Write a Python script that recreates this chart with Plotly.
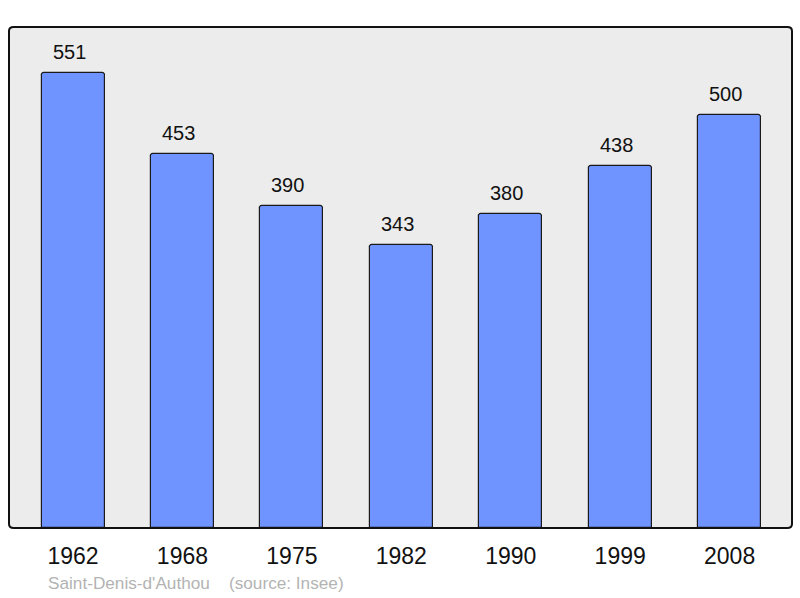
import plotly.graph_objects as go

# population by census year
years = ["1962", "1968", "1975", "1982", "1990", "1999", "2008"]
population = [551, 453, 390, 343, 380, 438, 500]

fig = go.Figure()
fig.add_trace(go.Bar(
    x=years, y=population,
    width=0.576,
    marker=dict(color="#7094ff", line=dict(color="#1a1a1a", width=1.2), cornerradius=3),
))

# value labels above each bar (category axis -> use the index position)
for i, val in enumerate(population):
    fig.add_annotation(x=i, y=val, xref="x", yref="y", text=str(val), showarrow=False,
                       yanchor="middle", yshift=21, xshift=-4,
                       font=dict(size=20, color="#111"))

# rounded frame round the plot area
fig.add_shape(type="path", xref="paper", yref="paper",
              path="M 0.006,0 L 0.994,0 Q 1,0 1,0.008 L 1,0.992 Q 1,1 0.994,1 "
                   "L 0.006,1 Q 0,1 0,0.992 L 0,0.008 Q 0,0 0.006,0 Z",
              line=dict(color="#111", width=2), layer="above")

fig.add_annotation(text="Saint-Denis-d'Authou    (source: Insee)", xref="paper", yref="paper",
                   x=0.047, y=-0.11, xanchor="left", yanchor="middle", showarrow=False,
                   font=dict(size=17.2, color="#b3b3b3"))

fig.update_layout(
    width=800, height=598,
    margin=dict(l=9, r=8, t=27, b=70),
    paper_bgcolor="white", plot_bgcolor="#ececec",
    font=dict(family="Liberation Sans, Arial", color="#111"),
    showlegend=False, bargap=0,
)
fig.update_xaxes(type="category", range=[-0.585, 6.57], showgrid=False,
                 tickfont=dict(size=23), ticks="", ticklabelstandoff=12)
fig.update_yaxes(range=[0, 606.7], showgrid=False, showticklabels=False, zeroline=False)

# page has a default body margin; drop it so the figure sits at 0,0
fig.write_html("out.html", config={"displayModeBar": False},
               post_script="document.body.style.margin='0';")
